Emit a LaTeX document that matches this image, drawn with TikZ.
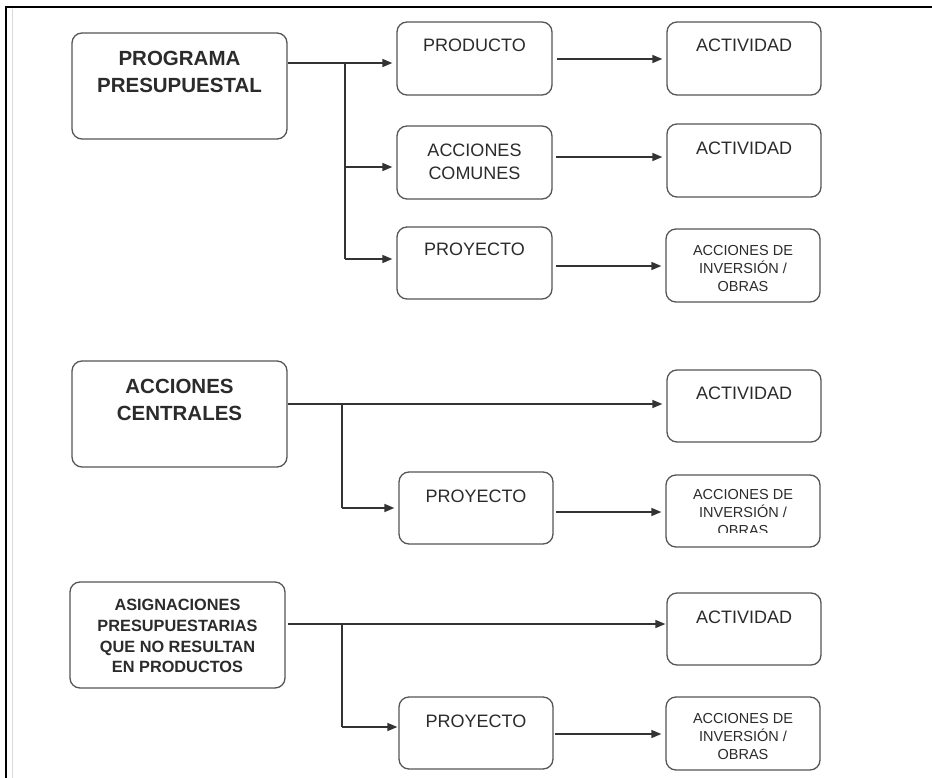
\documentclass[tikz,border=0pt]{standalone}
\usepackage{fontspec}
\setmainfont{Liberation Sans}
\usetikzlibrary{arrows.meta}
\definecolor{boxline}{HTML}{555555}
\definecolor{txt}{HTML}{2B2B2B}
\definecolor{conn}{HTML}{333333}
\newcommand\fbig{\fontsize{20.5}{26.5}\selectfont\bfseries}
\newcommand\fmed{\fontsize{18}{23}\selectfont}
\newcommand\fsml{\fontsize{14.5}{18}\selectfont}
\newcommand\fasig{\fontsize{16.3}{20.7}\selectfont\bfseries}
\tikzset{
  box/.style={draw=boxline, line width=1.3pt, rounded corners=10pt, inner sep=0pt, fill=white},
  lbl/.style={inner sep=0pt, text=txt, align=center},
  trunk/.style={draw=conn, line width=2.2pt},
  br/.style={draw=conn, line width=1.4pt},
  arr/.style={draw=conn, line width=1.4pt, -{Triangle[length=10pt,width=8pt]}, shorten >=4pt},
}
\begin{document}
\begin{tikzpicture}[x=1pt,y=-1pt]
\fill[white] (0,0) rectangle (932,778);
\useasboundingbox (0,0) rectangle (932,778);
% frame
\draw[gray!30, line width=1.2pt] (12.5,9) -- (12.5,778);
\draw[black, line width=2pt] (932,7) -- (6,7) -- (6,778);

% ---------- group 1
\node[box, minimum width=215, minimum height=106] (A1) at (179.5,86) {};
\node[lbl, anchor=north, font=\fbig] (A1t) at (179.5,51.2) {PROGRAMA\\PRESUPUESTAL};
\node[box, minimum width=155, minimum height=73] (B1) at (474.5,58.5) {};
\node[lbl, anchor=base, font=\fmed] (B1t) at (474.5,52) {PRODUCTO};
\node[box, minimum width=155, minimum height=73] (B2) at (474.5,162.5) {};
\node[lbl, anchor=north, font=\fmed] (B2t) at (474.5,144) {ACCIONES\\COMUNES};
\node[box, minimum width=155, minimum height=72] (B3) at (474.5,263) {};
\node[lbl, anchor=base, font=\fmed] (B3t) at (474.5,255) {PROYECTO};
\node[box, minimum width=154, minimum height=73] (C1) at (744,58.5) {};
\node[lbl, anchor=base, font=\fmed] (C1t) at (744,52) {ACTIVIDAD};
\node[box, minimum width=154, minimum height=73] (C2) at (744,160.5) {};
\node[lbl, anchor=base, font=\fmed] (C2t) at (744,155) {ACTIVIDAD};
\node[box, minimum width=154, minimum height=73] (C3) at (743,265.5) {};
\node[lbl, anchor=north, font=\fsml] (C3t) at (743,245.6) {ACCIONES DE\\INVERSIÓN /\\OBRAS};

\coordinate (j1) at (345,63);
\coordinate (j1b) at (345,167);
\coordinate (j1c) at (345,259);
\draw[trunk] (A1.east |- j1) -- (j1);
\draw[br] (j1) -- (j1c);
\draw[arr] (j1) -- (B1.west |- j1);
\draw[arr] (j1b) -- (B2.west |- j1b);
\draw[arr] (j1c) -- (B3.west |- j1c);
\coordinate (k1) at (0,59);
\coordinate (k2) at (0,157);
\coordinate (k3) at (0,266);
\draw[arr, shorten <=4pt] (B1.east |- k1) -- (C1.west |- k1);
\draw[arr, shorten <=3pt] (B2.east |- k2) -- (C2.west |- k2);
\draw[arr, shorten <=3pt] (B3.east |- k3) -- (C3.west |- k3);

% ---------- group 2
\node[box, minimum width=215, minimum height=106] (A2) at (179.5,414) {};
\node[lbl, anchor=north, font=\fbig] (A2t) at (179.5,379.2) {ACCIONES\\CENTRALES};
\node[box, minimum width=154, minimum height=72] (D1) at (744,406) {};
\node[lbl, anchor=base, font=\fmed] (D1t) at (744,399) {ACTIVIDAD};
\node[box, minimum width=154, minimum height=72] (D2) at (476,508) {};
\node[lbl, anchor=base, font=\fmed] (D2t) at (476,502) {PROYECTO};
\node[box, minimum width=154, minimum height=72] (D3) at (743,511) {};
\begin{scope}
\clip (667,476) rectangle (819,532.5);
\node[lbl, anchor=north, font=\fsml] (D3t) at (743,489.6) {ACCIONES DE\\INVERSIÓN /\\OBRAS};
\end{scope}

\coordinate (j2) at (342,404);
\coordinate (j2b) at (342,508);
\draw[trunk] (A2.east |- j2) -- (j2);
\draw[arr] (j2) -- (D1.west |- j2);
\draw[br] (j2) -- (j2b);
\draw[arr] (j2b) -- (D2.west |- j2b);
\coordinate (k4) at (0,512);
\draw[arr, shorten <=2pt] (D2.east |- k4) -- (D3.west |- k4);

% ---------- group 3
\node[box, minimum width=215, minimum height=106] (A3) at (177.5,635) {};
\node[lbl, anchor=north, font=\fasig] (A3t) at (177.5,599.3) {ASIGNACIONES\\PRESUPUESTARIAS\\QUE NO RESULTAN\\EN PRODUCTOS};
\node[box, minimum width=154, minimum height=72] (E1) at (744,629) {};
\node[lbl, anchor=base, font=\fmed] (E1t) at (744,623) {ACTIVIDAD};
\node[box, minimum width=154, minimum height=72] (E2) at (476,733) {};
\node[lbl, anchor=base, font=\fmed] (E2t) at (476,727) {PROYECTO};
\node[box, minimum width=154, minimum height=73] (E3) at (743,733.5) {};
\node[lbl, anchor=north, font=\fsml] (E3t) at (743,713.6) {ACCIONES DE\\INVERSIÓN /\\OBRAS};

\coordinate (j3) at (342,624);
\coordinate (j3b) at (342,727);
\draw[trunk] ([xshift=2pt]A3.east |- j3) -- (j3);
\draw[arr, shorten >=1pt] (j3) -- (E1.west |- j3);
\draw[br] (j3) -- (j3b);
\draw[arr, shorten >=1pt] (j3b) -- (E2.west |- j3b);
\coordinate (k5) at (0,734);
\draw[arr, shorten <=1pt] (E2.east |- k5) -- (E3.west |- k5);
\end{tikzpicture}
\end{document}
